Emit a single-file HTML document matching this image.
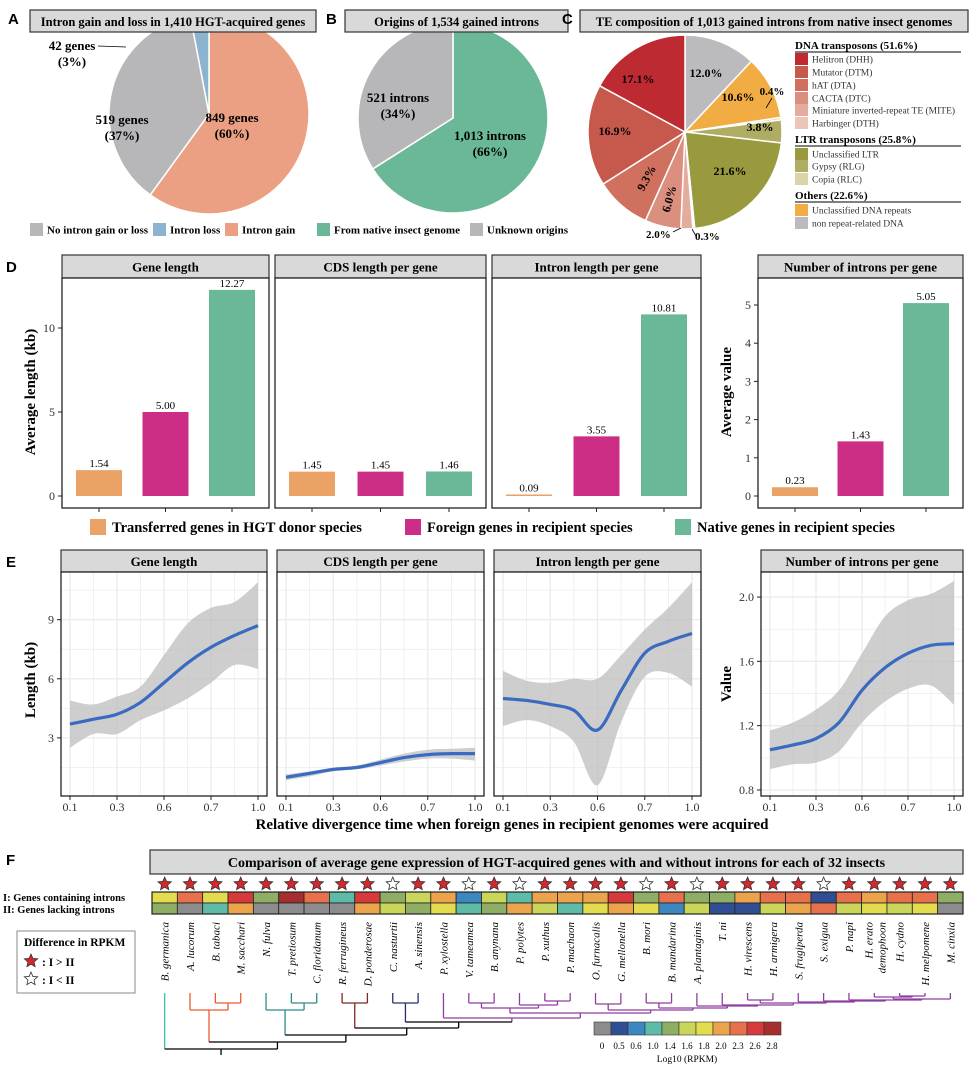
<!DOCTYPE html>
<html><head><meta charset="utf-8"><style>
body{margin:0;background:#fff}
svg{display:block;font-family:"Liberation Serif",serif}
</style></head><body>
<svg id="fig" width="978" height="1066" viewBox="0 0 978 1066" xmlns="http://www.w3.org/2000/svg">
<g id="root"></g>
<g font-family="Liberation Sans,sans-serif" font-weight="bold" font-size="15">
<text x="8" y="24">A</text>
<text x="326" y="24">B</text>
<text x="562" y="24">C</text>
<text x="6" y="272">D</text>
<text x="6" y="567">E</text>
<text x="6" y="865">F</text>
</g>
</svg>
<script>
// ---------- DATA ----------
const pieA_labels=["Intron gain","No intron gain or loss","Intron loss"];
const pieA_values=[60,37,3];
const pieB_labels=["From native insect genome","Unknown origins"];
const pieB_values=[66,34];
const pieC_labels=["non repeat-related DNA","Unclassified DNA repeats","Copia (RLC)","Gypsy (RLG)","Unclassified LTR","Harbinger (DTH)","Miniature inverted-repeat TE (MITE)","CACTA (DTC)","hAT (DTA)","Mutator (DTM)","Helitron (DHH)"];
const pieC_values=[12.0,10.6,0.4,3.8,21.6,0.3,2.0,6.0,9.3,16.9,17.1];
const barCats=["Transferred genes in HGT donor species","Foreign genes in recipient species","Native genes in recipient species"];
const barGene=[1.54,5.00,12.27];
const barCDS=[1.45,1.45,1.46];
const barIntron=[0.09,3.55,10.81];
const barNum=[0.23,1.43,5.05];
const xTicks=["0.1","0.3","0.6","0.7","1.0"];
const xPos=[0,0.5,1,1.5,2,2.5,3,3.5,4];
const eGeneMean=[3.7,3.95,4.2,4.8,5.8,6.8,7.6,8.2,8.7];
const eGeneUp=[4.9,4.7,5.1,5.6,7.2,8.8,9.6,9.9,10.9];
const eGeneLo=[2.5,3.2,3.2,3.9,4.4,5.0,5.8,6.7,6.5];
const eCDSMean=[1.0,1.2,1.4,1.5,1.75,2.0,2.15,2.2,2.2];
const eCDSUp=[1.15,1.3,1.5,1.6,1.9,2.2,2.4,2.45,2.5];
const eCDSLo=[0.85,1.05,1.3,1.4,1.6,1.8,1.95,1.95,1.85];
const eIntMean=[5.0,4.9,4.7,4.4,3.4,5.4,7.3,7.9,8.3];
const eIntUp=[6.4,5.9,5.8,6.0,6.0,7.2,8.5,9.6,10.9];
const eIntLo=[3.6,3.9,3.6,2.8,0.6,3.8,6.1,6.3,5.6];
const eNumMean=[1.05,1.08,1.12,1.22,1.42,1.56,1.65,1.70,1.71];
const eNumUp=[1.17,1.22,1.30,1.42,1.65,1.88,1.98,2.02,2.10];
const eNumLo=[0.93,0.96,0.97,1.04,1.22,1.35,1.43,1.45,1.33];
const species=["B. germanica","A. lucorum","B. tabaci","M. sacchari","N. fulva","T. pretiosum","C. floridanum","R. ferrugineus","D. ponderosae","C. nasturtii","A. sinensis","P. xylostella","V. tameamea","B. anynana","P. polytes","P. xuthus","P. machaon","O. furnacalis","G. mellonella","B. mori","B. mandarina","A. plantaginis","T. ni","H. virescens","H. armigera","S. frugiperda","S. exigua","P. napi","H. erato demophoon","H. cydno","H. melpomene","M. cinxia"];
const rowI=[6,8,6,9,4,10,8,3,9,4,5,7,2,5,3,7,7,7,9,4,8,4,4,7,8,8,1,8,7,8,8,4];
const rowII=[4,0,3,7,0,0,0,0,7,5,4,6,3,4,7,5,3,6,7,6,2,5,1,1,5,7,8,5,6,5,6,0];
const starUp=[1,1,1,1,1,1,1,1,1,0,1,1,0,1,0,1,1,1,1,0,1,0,1,1,1,1,0,1,1,1,1,1];
const scaleLabels=["0","0.5","0.6","1.0","1.4","1.6","1.8","2.0","2.3","2.6","2.8"];
// ---------- HELPERS ----------
const NS="http://www.w3.org/2000/svg";
const root=document.getElementById('root');
function mk(tag,attrs,parent,txt){const e=document.createElementNS(NS,tag);for(const k in attrs)e.setAttribute(k,attrs[k]);if(txt!==undefined)e.textContent=txt;(parent||root).appendChild(e);return e;}
function header(x,y,w,h,label,name,fs){
 const g=mk('g',{});
 
 
 mk('rect',{x:x,y:y,width:w,height:h,fill:'#D9D9D9',stroke:'#333','stroke-width':1.2},g);
 mk('text',{x:x+w/2,y:y+h/2+5,'text-anchor':'middle','font-size':fs||13,'font-weight':'bold'},g,label);
}
function pie(cx,cy,r,vals,cols,name){
 const g=mk('g',{});
 
 
 const tot=vals.reduce((a,b)=>a+b,0);let a0=-Math.PI/2;const mids=[];
 vals.forEach((v,i)=>{const a1=a0+v/tot*2*Math.PI;
  const x0=cx+r*Math.cos(a0),y0=cy+r*Math.sin(a0),x1=cx+r*Math.cos(a1),y1=cy+r*Math.sin(a1);
  const p=mk('path',{d:`M${cx},${cy}L${x0},${y0}A${r},${r} 0 ${a1-a0>Math.PI?1:0} 1 ${x1},${y1}Z`,fill:cols[i],stroke:'#fff','stroke-width':1.5},g);
  
  
  mids.push((a0+a1)/2);a0=a1;});
 return mids;
}
function legSq(x,y,col,label,name,fs){
 const g=mk('g',{});
 
 
 mk('rect',{x:x,y:y,width:fs?16:13,height:fs?16:13,fill:col},g);
 mk('text',{x:x+(fs?22:17),y:y+(fs?13:10.5),'font-size':fs||11,'font-weight':'bold'},g,label);
}
// ---------- PANEL A ----------
const colA=["#EBA083","#B7B7B9","#8DB4CF"];
pie(209,114,100,pieA_values,colA,"pie-a");
header(30,10,286,22,"Intron gain and loss in 1,410 HGT-acquired genes","title-a",12.5);
mk('text',{x:232,y:122,'font-size':13,'font-weight':'bold','text-anchor':'middle'},root,"849 genes");
mk('text',{x:232,y:138,'font-size':13,'font-weight':'bold','text-anchor':'middle'},root,"(60%)");
mk('text',{x:122,y:124,'font-size':13,'font-weight':'bold','text-anchor':'middle'},root,"519 genes");
mk('text',{x:122,y:140,'font-size':13,'font-weight':'bold','text-anchor':'middle'},root,"(37%)");
mk('text',{x:72,y:50,'font-size':13,'font-weight':'bold','text-anchor':'middle'},root,"42 genes");
mk('text',{x:72,y:66,'font-size':13,'font-weight':'bold','text-anchor':'middle'},root,"(3%)");
mk('line',{x1:98,y1:46,x2:126,y2:47,stroke:'#000','stroke-width':0.8});
legSq(30,223,colA[1],"No intron gain or loss","legend-no-change");
legSq(153,223,colA[2],"Intron loss","legend-intron-loss");
legSq(225,223,colA[0],"Intron gain","legend-intron-gain");
// ---------- PANEL B ----------
const colB=["#6BB898","#B7B7B9"];
pie(453,118,95,pieB_values,colB,"pie-b");
header(345,10,223,22,"Origins of 1,534 gained introns","title-b",12.5);
mk('text',{x:490,y:140,'font-size':13,'font-weight':'bold','text-anchor':'middle'},root,"1,013 introns");
mk('text',{x:490,y:156,'font-size':13,'font-weight':'bold','text-anchor':'middle'},root,"(66%)");
mk('text',{x:398,y:102,'font-size':13,'font-weight':'bold','text-anchor':'middle'},root,"521 introns");
mk('text',{x:398,y:118,'font-size':13,'font-weight':'bold','text-anchor':'middle'},root,"(34%)");
legSq(317,223,colB[0],"From native insect genome","legend-native");
legSq(470,223,colB[1],"Unknown origins","legend-unknown");
// ---------- PANEL C ----------
const colC=["#BBBBBE","#F1AC44","#D8D5A8","#AEAD63","#999A3D","#ECC5B9","#E3AC9C","#DB907F","#D0705F","#C7584C","#BE2A32"];
pie(685,132,97,pieC_values,colC,"pie-c");
header(580,10,388,22,"TE composition of 1,013 gained introns from native insect genomes","title-c",12.5);
const cLab=[[0,706,77,0],[1,738,101,0],[3,760,131,0],[4,730,175,0],[7,673,200,-75],[8,650,180,-62],[9,615,135,0],[10,638,83,0]];
cLab.forEach(([i,x,y,rot])=>{
 const t=mk('text',{x:x,y:y,'text-anchor':'middle','font-size':12,'font-weight':'bold',transform:`rotate(${rot} ${x} ${y})`},root,pieC_values[i].toFixed(1)+"%");
 
 
});
mk('text',{x:772,y:95,'font-size':11,'font-weight':'bold','text-anchor':'middle'},root,"0.4%");
mk('line',{x1:772,y1:98,x2:766,y2:108,stroke:'#000','stroke-width':0.8});
mk('text',{x:646,y:238,'font-size':11,'font-weight':'bold'},root,"2.0%");
mk('line',{x1:673,y1:232,x2:681,y2:228,stroke:'#000','stroke-width':0.8});
mk('text',{x:695,y:240,'font-size':11,'font-weight':'bold'},root,"0.3%");
mk('line',{x1:692,y1:229,x2:696,y2:236,stroke:'#000','stroke-width':0.8});
const legC=[["h","DNA transposons (51.6%)",45],[10,"Helitron (DHH)",59],[9,"Mutator (DTM)",72],[8,"hAT (DTA)",85],[7,"CACTA (DTC)",98],[6,"Miniature inverted-repeat TE (MITE)",110],[5,"Harbinger (DTH)",123],["h","LTR transposons (25.8%)",139],[4,"Unclassified LTR",154],[3,"Gypsy (RLG)",166],[2,"Copia (RLC)",179],["h","Others (22.6%)",195],[1,"Unclassified DNA repeats",210],[0,"non repeat-related DNA",223]];
legC.forEach(r=>{
 if(r[0]==="h"){const t=mk('text',{x:795,y:r[2]+4,'font-size':11,'font-weight':'bold'},root,r[1]);
  mk('line',{x1:795,y1:r[2]+7,x2:961,y2:r[2]+7,stroke:'#000','stroke-width':1});}
 else{const g=mk('g',{});
  mk('rect',{x:795,y:r[2]-6,width:13,height:12,fill:colC[r[0]]},g);
  mk('text',{x:812,y:r[2]+3.5,'font-size':9.5,fill:'#333'},g,r[1]);}
});
// ---------- PANEL D ----------
const barCols=["#EBA266","#CC2D85","#6BB898"];
function barPanel(x0,w,title,vals,yscale,ticks,showAxis,name){
 header(x0,255,w,23,title,name+"-header");
 const g=mk('g',{});
 mk('rect',{x:x0,y:278,width:w,height:230,fill:'#fff',stroke:'#222','stroke-width':1.3},g);
 const y=v=>496-v*yscale;
 if(showAxis){ticks.forEach(t=>{mk('line',{x1:x0-4,x2:x0,y1:y(t),y2:y(t),stroke:'#222'},g);
  const tt=mk('text',{x:x0-7,y:y(t)+4,'text-anchor':'end','font-size':12,fill:'#333'},g,String(t));});}
 vals.forEach((v,i)=>{const cx=x0+37+i*(w-74)/2;
  const b=mk('rect',{x:cx-23,y:y(v),width:46,height:v*yscale,fill:barCols[i]},g);
  
  mk('text',{x:cx,y:y(v)-3,'text-anchor':'middle','font-size':11},g,v.toFixed(2));
  mk('line',{x1:cx,x2:cx,y1:508,y2:512,stroke:'#222'},g);});
}
barPanel(62,207,"Gene length",barGene,16.8,[0,5,10],true,"plot-gene-length");
barPanel(275,211,"CDS length per gene",barCDS,16.8,[],false,"plot-cds-length");
barPanel(492,209,"Intron length per gene",barIntron,16.8,[],false,"plot-intron-length");
barPanel(758,205,"Number of introns per gene",barNum,38.2,[0,1,2,3,4,5],true,"plot-intron-number");
let yt=mk('text',{x:35,y:392,'text-anchor':'middle','font-size':15,'font-weight':'bold',transform:'rotate(-90 35 392)'},root,"Average length (kb)");

yt=mk('text',{x:731,y:392,'text-anchor':'middle','font-size':15,'font-weight':'bold',transform:'rotate(-90 731 392)'},root,"Average value");

[[90,0],[405,1],[675,2]].forEach(([x,i])=>legSq(x,519,barCols[i],barCats[i],"legend-"+i,14.5));
// ---------- PANEL E ----------
function smooth(pts){let d=`M${pts[0][0]},${pts[0][1]}`;for(let i=0;i<pts.length-1;i++){const p0=pts[Math.max(0,i-1)],p1=pts[i],p2=pts[i+1],p3=pts[Math.min(pts.length-1,i+2)];
 d+=`C${p1[0]+(p2[0]-p0[0])/6},${p1[1]+(p2[1]-p0[1])/6} ${p2[0]-(p3[0]-p1[0])/6},${p2[1]-(p3[1]-p1[1])/6} ${p2[0]},${p2[1]}`;}return d;}
function linePanel(x0,w,title,mean,up,lo,y,ticks,minor,showAxis,name){
 header(x0,550,w,22,title,name+"-header");
 const g=mk('g',{});
 mk('rect',{x:x0,y:572,width:w,height:224,fill:'#fff'},g);
 const xs=v=>x0+9+v*(w-18)/4;
 for(let k=0;k<=8;k++){mk('line',{x1:xs(k/2),x2:xs(k/2),y1:572,y2:796,stroke:'#EBEBEB','stroke-width':k%2?0.7:1.3},g);}
 minor.forEach(t=>{const yy=y(t);if(yy>572&&yy<796)mk('line',{x1:x0,x2:x0+w,y1:yy,y2:yy,stroke:'#EBEBEB','stroke-width':0.7},g);});
 ticks.forEach(t=>{mk('line',{x1:x0,x2:x0+w,y1:y(t),y2:y(t),stroke:'#EBEBEB','stroke-width':1.3},g);
  if(showAxis){mk('line',{x1:x0-4,x2:x0,y1:y(t),y2:y(t),stroke:'#222'},g);
  const tt=mk('text',{x:x0-7,y:y(t)+4,'text-anchor':'end','font-size':12,fill:'#333'},g,t.toFixed(t<3?1:0));}});
 const upP=xPos.map((p,i)=>[xs(p),y(up[i])]),loP=xPos.map((p,i)=>[xs(p),y(lo[i])]).reverse();
 const band=mk('path',{d:smooth(upP)+smooth(loP).replace('M','L')+'Z',fill:'#BDBDBD','fill-opacity':0.75},g);
 
 const ln=mk('path',{d:smooth(xPos.map((p,i)=>[xs(p),y(mean[i])])),fill:'none',stroke:'#3A6BC0','stroke-width':3.2},g);
 
 mk('rect',{x:x0,y:572,width:w,height:224,fill:'none',stroke:'#222','stroke-width':1.3},g);
 xTicks.forEach((t,i)=>{mk('line',{x1:xs(i),x2:xs(i),y1:796,y2:800,stroke:'#222'},g);
  const tt=mk('text',{x:xs(i),y:811,'text-anchor':'middle','font-size':12,fill:'#333'},g,t);});
}
const yLen=v=>797-v*19.7;
const yNum=v=>790-(v-0.8)*160.8;
linePanel(61,206,"Gene length",eGeneMean,eGeneUp,eGeneLo,yLen,[3,6,9],[1.5,4.5,7.5,10.5],true,"plot-e-gene-length");
linePanel(277,207,"CDS length per gene",eCDSMean,eCDSUp,eCDSLo,yLen,[3,6,9],[1.5,4.5,7.5,10.5],false,"plot-e-cds-length");
linePanel(494,207,"Intron length per gene",eIntMean,eIntUp,eIntLo,yLen,[3,6,9],[1.5,4.5,7.5,10.5],false,"plot-e-intron-length");
linePanel(761,202,"Number of introns per gene",eNumMean,eNumUp,eNumLo,yNum,[0.8,1.2,1.6,2.0],[1.0,1.4,1.8],true,"plot-e-intron-number");
yt=mk('text',{x:35,y:680,'text-anchor':'middle','font-size':15,'font-weight':'bold',transform:'rotate(-90 35 680)'},root,"Length (kb)");

yt=mk('text',{x:731,y:684,'text-anchor':'middle','font-size':15,'font-weight':'bold',transform:'rotate(-90 731 684)'},root,"Value");

yt=mk('text',{x:512,y:829,'text-anchor':'middle','font-size':15,'font-weight':'bold'},root,"Relative divergence time when foreign genes in recipient genomes were acquired");

// ---------- PANEL F ----------
header(150,850,813,24,"Comparison of average gene expression of HGT-acquired genes with and without introns for each of 32 insects","title-f",14);
const pal=["#8C8C8E","#2F4E93","#3C87BF","#5DBBA7","#8EAE66","#C9D65A","#E2DC4E","#EBA44B","#E8714D","#D63A3A","#A52F2E"];
const cw=(963-152)/32;const cx=i=>152+cw*(i+0.5);
function starPath(x,y,r){let d='';for(let k=0;k<10;k++){const a=-Math.PI/2+k*Math.PI/5,rr=k%2?r*0.45:r;d+=(k?'L':'M')+(x+rr*Math.cos(a))+','+(y+rr*Math.sin(a));}return d+'Z';}
species.forEach((s,i)=>{
 const st=mk('path',{d:starPath(cx(i),884,7),fill:starUp[i]?'#D7262C':'#fff',stroke:'#333','stroke-width':0.8});
 
 const c1=mk('rect',{x:152+cw*i,y:892,width:cw,height:11,fill:pal[rowI[i]],stroke:'#222','stroke-width':0.8});
 
 const c2=mk('rect',{x:152+cw*i,y:903,width:cw,height:11,fill:pal[rowII[i]],stroke:'#222','stroke-width':0.8});
 
 const parts=s==="H. erato demophoon"?["H. erato","demophoon"]:[s];
 parts.forEach((p,k)=>{const x=cx(i)+4+(parts.length>1?(k?7:-6):0);
  const t=mk('text',{x:x,y:922,'text-anchor':'end','font-size':11,'font-style':'italic',transform:`rotate(-90 ${x} 922)`},root,p);
  });
});
mk('rect',{x:152,y:892,width:811,height:22,fill:'none',stroke:'#222','stroke-width':1.2});
mk('text',{x:3,y:901,'font-size':10.5,'font-weight':'bold'},root,"I: Genes containing introns");
mk('text',{x:3,y:913,'font-size':10.5,'font-weight':'bold'},root,"II: Genes lacking introns");
const lg=mk('g',{});
mk('rect',{x:17,y:931,width:118,height:62,fill:'#fff',stroke:'#888'},lg);
mk('text',{x:24,y:946,'font-size':11.5,'font-weight':'bold'},lg,"Difference in RPKM");
mk('path',{d:starPath(31,961,7),fill:'#D7262C',stroke:'#333','stroke-width':0.8},lg);
mk('text',{x:42,y:966,'font-size':11.5,'font-weight':'bold'},lg,": I > II");
mk('path',{d:starPath(31,979,7),fill:'#fff',stroke:'#333','stroke-width':0.8},lg);
mk('text',{x:42,y:984,'font-size':11.5,'font-weight':'bold'},lg,": I < II");
const cs=mk('g',{});
pal.forEach((c,k)=>{mk('rect',{x:594+k*17,y:1022,width:17,height:13,fill:c,stroke:'#333','stroke-width':0.6},cs);
 mk('text',{x:602+k*17,y:1049,'text-anchor':'middle','font-size':9},cs,scaleLabels[k]);});
mk('text',{x:687,y:1062,'text-anchor':'middle','font-size':9.5},cs,"Log10 (RPKM)");
const tree={y:1049,c:'#000',k:[{l:0,c:'#3CC0B0'},{y:1042,c:'#000',k:[
 {y:1010,c:'#EA5A2F',k:[{l:1},{y:1003,k:[{l:2},{l:3}]}]},
 {y:1035,c:'#000',k:[
  {y:1010,c:'#2E8A8A',k:[{l:4},{y:1003,k:[{l:5},{l:6}]}]},
  {y:1028,c:'#000',k:[
   {y:1003,c:'#7A2A1E',k:[{l:7},{l:8}]},
   {y:1022,c:'#000',k:[
    {y:1003,c:'#26306E',k:[{l:9},{l:10}]},
    {y:1018,c:'#8E3F9E',k:[{l:11},{y:1013,k:[
     {y:1008,k:[{y:1003,k:[{l:12},{l:13}]},{y:1005,k:[{l:14},{y:1001,k:[{l:15},{l:16}]}]}]},
     {y:1010,k:[{y:1004,k:[{l:17},{l:18}]},{y:1008,k:[{y:1003,k:[{l:19},{l:20}]},{y:1006,k:[{l:21},{y:1005,k:[{l:22},{y:1003,k:[{y:1000,k:[{l:23},{l:24}]},{y:1002,k:[{l:25},{y:1001,k:[{l:26},{y:1000,k:[{l:27},{y:999,k:[{y:997,k:[{l:28},{y:996,k:[{l:29},{l:30}]}]},{l:31}]}]}]}]}]}]}]}]}]}
    ]}]}
   ]}]}]}]}]};
const tg=mk('g',{});
function draw(n,col){const c=n.c||col;if(n.l!==undefined){n.x=cx(n.l);n.yy=993;return;}
 n.k.forEach(ch=>draw(ch,c));n.x=(n.k[0].x+n.k[n.k.length-1].x)/2;n.yy=n.y;
 n.k.forEach(ch=>{const cc=ch.c||c;mk('line',{x1:ch.x,x2:ch.x,y1:ch.yy,y2:n.y,stroke:cc,'stroke-width':1.3},tg);});
 mk('line',{x1:n.k[0].x,x2:n.k[n.k.length-1].x,y1:n.y,y2:n.y,stroke:c,'stroke-width':1.3},tg);}
draw(tree,'#000');
mk('line',{x1:tree.x,x2:tree.x,y1:1049,y2:1055,stroke:'#000','stroke-width':1.3},tg);
</script>
</body></html>
